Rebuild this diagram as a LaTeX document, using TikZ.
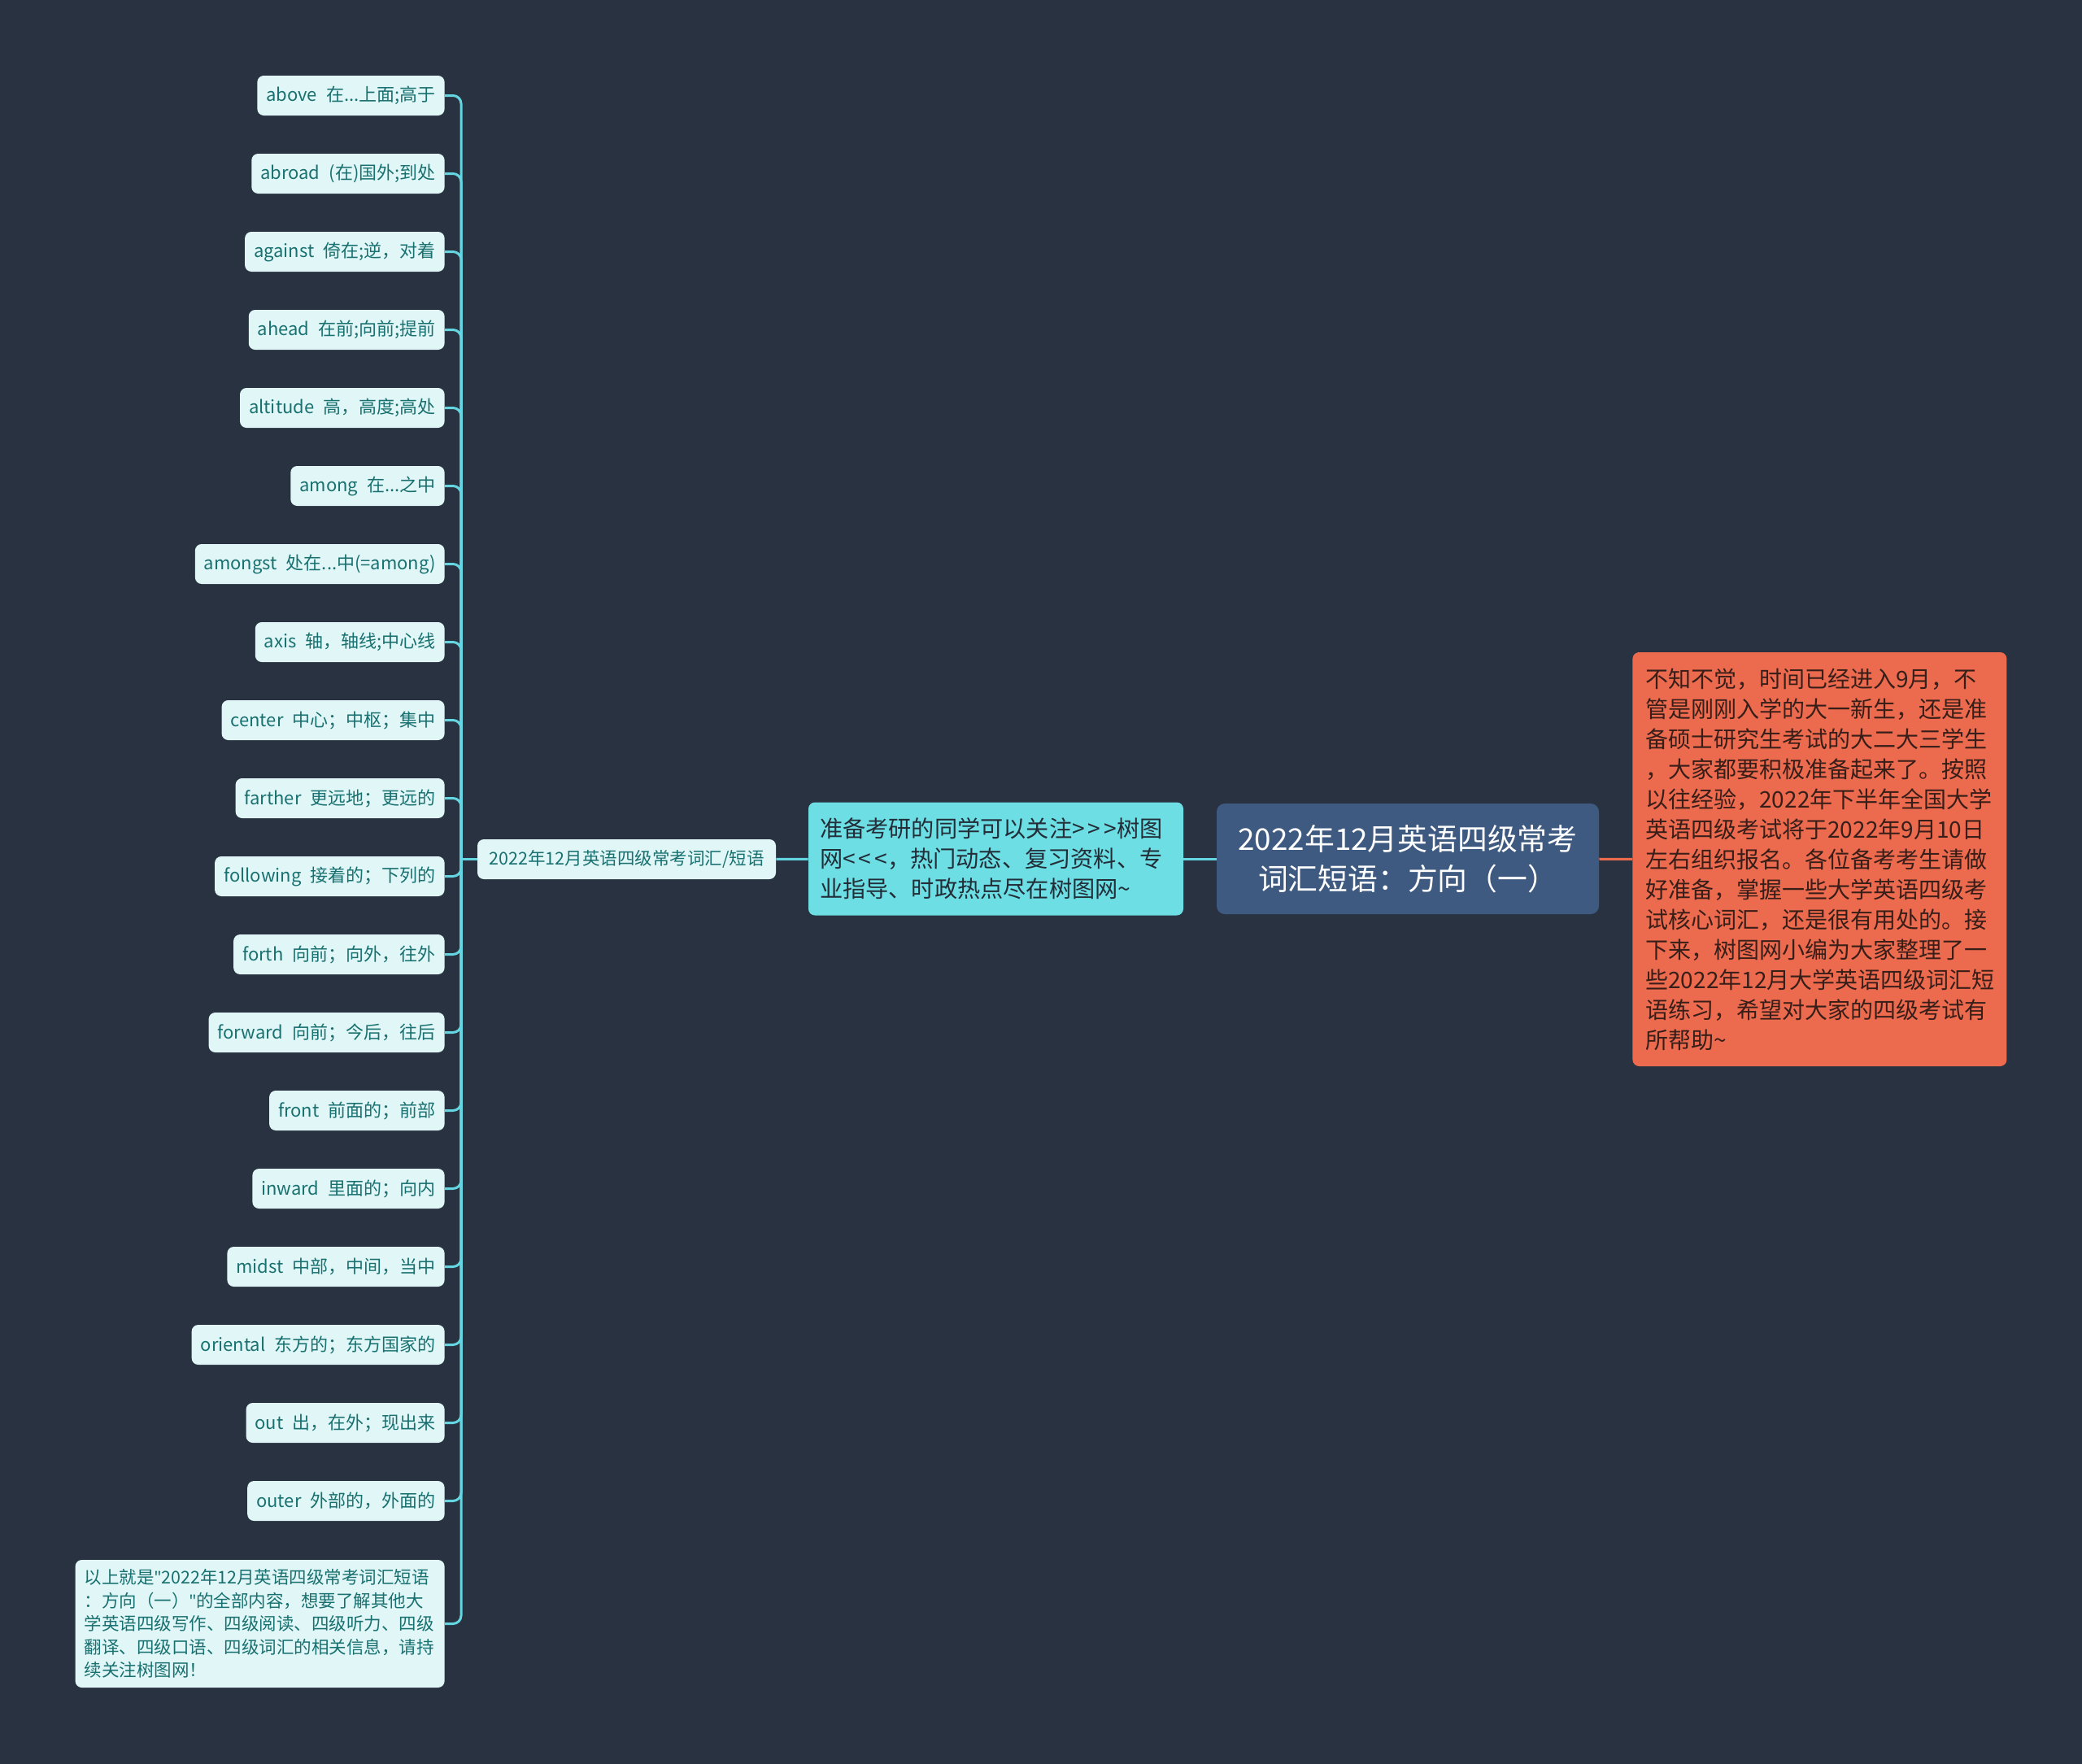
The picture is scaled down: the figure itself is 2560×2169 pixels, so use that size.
\documentclass[tikz,border=0pt]{standalone}
\usepackage{fontspec}
\setmainfont{Noto Sans CJK SC}
\newfontfamily\latinfont{Noto Sans}
\usepackage{tikz}
\usetikzlibrary{positioning}
\definecolor{bgnavy}{RGB}{40,50,65}
\definecolor{leaffill}{RGB}{225,247,247}
\definecolor{leaftext}{RGB}{25,112,112}
\definecolor{linecyan}{RGB}{100,214,226}
\definecolor{midcyan}{RGB}{108,222,228}
\definecolor{midtext}{RGB}{35,45,55}
\definecolor{rootblue}{RGB}{62,90,128}
\definecolor{notered}{RGB}{236,106,78}
\definecolor{notetext}{RGB}{55,30,25}

\tikzset{
  leaf/.style={fill=leaffill, text=leaftext, rounded corners=4pt, anchor=east,
    minimum height=24.5pt, inner xsep=5.5pt, inner ysep=0pt,
    font=\fontsize{11}{14.25}\selectfont},
  hubbox/.style={fill=leaffill, text=leaftext, rounded corners=4pt,
    minimum width=183.5pt, minimum height=24.5pt, inner xsep=4pt, inner ysep=0pt,
    font=\fontsize{10.75}{14}\selectfont},
  midbox/.style={fill=midcyan, text=midtext, rounded corners=4pt, align=left,
    text width=216.5pt, inner xsep=7pt, minimum height=69.5pt,
    font=\fontsize{14.1}{18.5}\selectfont},
  rootbox/.style={fill=rootblue, text=white, rounded corners=5pt, align=center,
    minimum width=235pt, minimum height=68pt,
    font=\fontsize{18.4}{24.5}\selectfont},
  notebox/.style={fill=notered, text=notetext, rounded corners=4pt, align=left,
    text width=214pt, inner xsep=8pt, minimum height=254.5pt,
    font=\fontsize{14}{18.5}\selectfont},
  trunk/.style={draw=linecyan, line width=1.5pt, rounded corners=5pt},
}
\newcommand{\sq}{{\latinfont"}}
\newcommand{\gts}{>\kern2pt>\kern2pt>}
\newcommand{\lts}{<\kern2pt<\kern2pt<}

\begin{document}
\begin{tikzpicture}[x=0.5pt, y=-0.5pt]
        % Background
        \fill[bgnavy] (0,0) rectangle (2560,2169);

        % Centre and right side
        \node[rootbox] (root) at (1731,1056) {2022年12月英语四级常考\\词汇短语：方向（一）};
        \node[notebox, anchor=west] (intro) at (2007,1056.5) {
            不知不觉，时间已经进入9月，不\\
            管是刚刚入学的大一新生，还是准\\
            备硕士研究生考试的大二大三学生\\
            ，大家都要积极准备起来了。按照\\
            以往经验，2022年下半年全国大学\\
            英语四级考试将于2022年9月10日\\
            左右组织报名。各位备考考生请做\\
            好准备，掌握一些大学英语四级考\\
            试核心词汇，还是很有用处的。接\\
            下来，树图网小编为大家整理了一\\
            些2022年12月大学英语四级词汇短\\
            语练习，希望对大家的四级考试有\\
            所帮助\textasciitilde
        };
        \node[midbox] (follow) at (1224.5,1056) {
            准备考研的同学可以关注\gts 树图\\
            网\lts ，热门动态、复习资料、专\\
            业指导、时政热点尽在树图网\textasciitilde
        };
        \node[hubbox] (hub) at (770.5,1056.5) {2022年12月英语四级常考词汇/短语};

        % Leaves
        \node[leaf] (above) at (547,117.5) {above\enspace 在...上面;高于};
        \node[leaf] (abroad) at (547,213.5) {abroad\enspace (在)国外;到处};
        \node[leaf] (against) at (547,309.5) {against\enspace 倚在;逆，对着};
        \node[leaf] (ahead) at (547,405.5) {ahead\enspace 在前;向前;提前};
        \node[leaf] (altitude) at (547,501.5) {altitude\enspace 高，高度;高处};
        \node[leaf] (among) at (547,597.5) {among\enspace 在...之中};
        \node[leaf] (amongst) at (547,693.5) {amongst\enspace 处在...中(=among)};
        \node[leaf] (axis) at (547,789.5) {axis\enspace 轴，轴线;中心线};
        \node[leaf] (centre) at (547,885.5) {center\enspace 中心；中枢；集中};
        \node[leaf] (farther) at (547,981.5) {farther\enspace 更远地；更远的};
        \node[leaf] (following) at (547,1077.5) {following\enspace 接着的；下列的};
        \node[leaf] (forth) at (547,1173.5) {forth\enspace 向前；向外，往外};
        \node[leaf] (forward) at (547,1269.5) {forward\enspace 向前；今后，往后};
        \node[leaf] (front) at (547,1365.5) {front\enspace 前面的；前部};
        \node[leaf] (inward) at (547,1461.5) {inward\enspace 里面的；向内};
        \node[leaf] (midst) at (547,1557.5) {midst\enspace 中部，中间，当中};
        \node[leaf] (oriental) at (547,1653.5) {oriental\enspace 东方的；东方国家的};
        \node[leaf] (outword) at (547,1749.5) {out\enspace 出，在外；现出来};
        \node[leaf] (outer) at (547,1845.5) {outer\enspace 外部的，外面的};
        \node[leaf, align=left, text width=216pt, minimum height=78.5pt,
            font=\fontsize{10.75}{14.25}\selectfont] (summary) at (547,1996.5) {
            以上就是\sq 2022年12月英语四级常考词汇短语\\
            ：方向（一）\sq 的全部内容，想要了解其他大\\
            学英语四级写作、四级阅读、四级听力、四级\\
            翻译、四级口语、四级词汇的相关信息，请持\\
            续关注树图网！
        };

        % Connectors
        \coordinate (fork) at (567,1056.5);
        \draw[draw=notered, line width=1.5pt] (root) -- (intro);
        \draw[draw=linecyan, line width=1.5pt] (root) -- (follow);
        \draw[draw=linecyan, line width=1.5pt] (follow) -- (hub);
        \draw[draw=linecyan, line width=1.5pt] (hub.west) -- (fork);
        \foreach \leafname in {above,abroad,against,ahead,altitude,among,amongst,axis,centre,farther,
            following,forth,forward,front,inward,midst,oriental,outword,outer,summary}
            \draw[trunk] (fork) |- (\leafname.east);

    \end{tikzpicture}
\end{document}
